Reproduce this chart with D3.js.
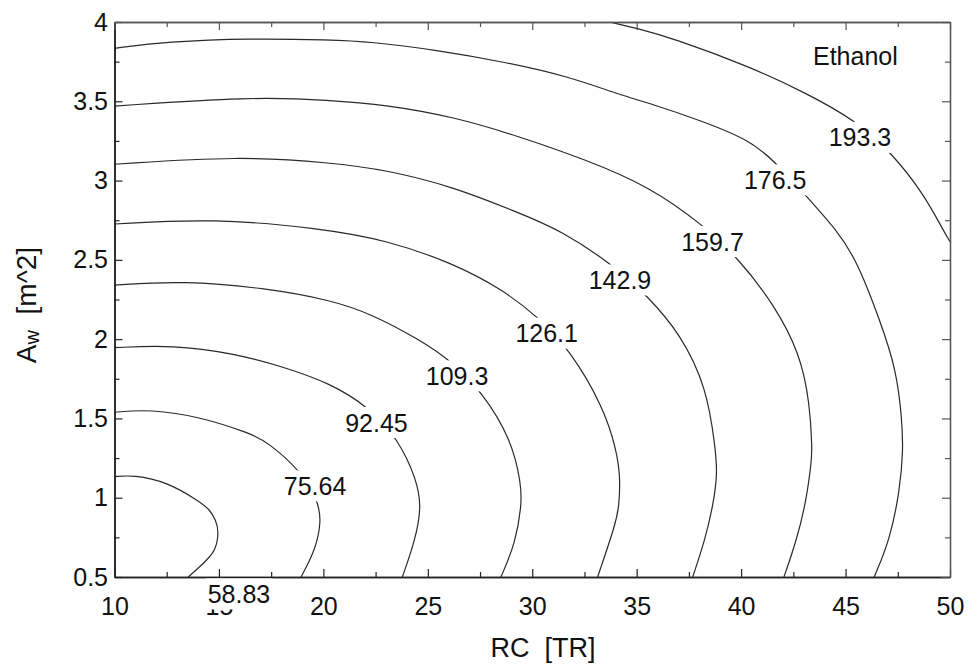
<!DOCTYPE html>
<html>
<head>
<meta charset="utf-8">
<script src="https://cdn.jsdelivr.net/npm/d3@7"></script>
<style>
  html, body { margin: 0; padding: 0; background: #fff; }
  svg { display: block; font-family: "Liberation Sans", Arial, Helvetica, sans-serif; }
  text { white-space: pre; }
</style>
</head>
<body>
<svg id="chart" width="970" height="667"></svg>
<script>
// ---------- data ----------
const xDomain = [10, 50];
const yDomain = [0.5, 4];
const xMajorTicks = [10, 15, 20, 25, 30, 35, 40, 45, 50];
const xMinorTicks = [12.5, 17.5, 22.5, 27.5, 32.5, 37.5, 42.5, 47.5];
const yMajorTicks = [0.5, 1, 1.5, 2, 2.5, 3, 3.5, 4];
const yMinorTicks = [0.75, 1.25, 1.75, 2.25, 2.75, 3.25, 3.75];

const levelLabels = ["58.83", "75.64", "92.45", "109.3", "126.1", "142.9", "159.7", "176.5", "193.3"];

const contour_58_83 = [[10,1.133],[10.9,1.143],[12.5,1.101],[14.09,0.975],[14.57,0.923],[14.85,0.859],[15.0,0.786],[14.85,0.67],[14.41,0.607],[14.09,0.565],[13.53,0.5]];
const contour_75_64 = [[10,1.539],[11.7,1.558],[14.09,1.511],[16.49,1.406],[17.29,1.355],[18.96,1.164],[19.76,0.975],[19.9,0.849],[19.62,0.67],[18.93,0.5]];
const contour_92_45 = [[10,1.946],[12.8,1.963],[15.69,1.911],[18.08,1.826],[20.32,1.722],[22.15,1.574],[23.59,1.37],[24.47,1.112],[24.7,0.943],[24.4,0.733],[23.78,0.5]];
const contour_109_3 = [[10,2.341],[13.29,2.369],[17.29,2.321],[20.32,2.247],[22.23,2.163],[24.62,1.995],[26.06,1.868],[27.62,1.665],[29.01,1.364],[29.46,1.09],[29.5,0.965],[29.2,0.713],[28.5,0.5]];
const contour_126_1 = [[10,2.726],[14.73,2.762],[19.84,2.699],[23.03,2.625],[26.22,2.478],[28.61,2.31],[30.29,2.138],[31.8,1.932],[33.4,1.574],[34.04,1.301],[34.22,1.12],[34.15,0.943],[34.0,0.839],[33.13,0.5]];
const contour_142_9 = [[10,3.103],[16.0,3.155],[20.32,3.113],[23.03,3.067],[26.22,2.961],[29.41,2.794],[31.33,2.688],[33.88,2.468],[35.55,2.268],[37.07,2.037],[38.35,1.70],[38.78,1.301],[38.86,1.154],[38.68,0.965],[38.27,0.733],[37.68,0.5]];
const contour_159_7 = [[10,3.47],[16.49,3.529],[20.32,3.508],[23.03,3.477],[26.22,3.403],[29.41,3.277],[32.6,3.13],[35.63,2.961],[38.18,2.72],[39.86,2.51],[41.54,2.226],[42.82,1.911],[43.29,1.595],[43.4,1.301],[43.37,1.238],[43.13,0.986],[42.66,0.733],[42.05,0.5]];
const contour_176_5 = [[10,3.834],[12.5,3.876],[16.49,3.897],[20.32,3.887],[22.23,3.876],[25.42,3.823],[28.61,3.75],[31.8,3.655],[34.2,3.54],[35.63,3.487],[38.03,3.38],[40.42,3.256],[41.7,3.109],[43.14,2.898],[44.57,2.688],[45.53,2.499],[46.64,2.121],[47.44,1.805],[47.7,1.49],[47.76,1.301],[47.6,1.049],[47.12,0.733],[46.37,0.5]];
const contour_193_3 = [[33.72,4.0],[35.0,3.96],[36.75,3.897],[40.42,3.718],[43.14,3.55],[45.45,3.382],[47.2,3.176],[48.72,2.92],[49.67,2.688],[50,2.615]];

// label anchor points (data units), in the same order as levelLabels
const labelX = [15.96, 19.6, 22.54, 26.4, 30.69, 34.2, 38.63, 41.63, 45.69];
const labelY = [0.393, 1.074, 1.474, 1.768, 2.037, 2.373, 2.615, 3.004, 3.272];

const xTitle = "RC  [TR]";
const yTitleMain = "A";
const yTitleSub = "w";
const yTitleRest = "  [m^2]";
const annotation = "Ethanol";

// ---------- layout ----------
const svg = d3.select("#chart");
const mLeft = 114.5, mRight = 950, mTop = 22, mBottom = 577;
const x = d3.scaleLinear().domain(xDomain).range([mLeft, mRight]);
const y = d3.scaleLinear().domain(yDomain).range([mBottom, mTop]);
const tickFont = 25;

svg.append("defs").append("clipPath").attr("id", "plotclip")
  .append("rect").attr("x", mLeft).attr("y", mTop).attr("width", mRight - mLeft).attr("height", mBottom - mTop);

// ---------- contours ----------
const contours = [contour_58_83, contour_75_64, contour_92_45, contour_109_3, contour_126_1,
                  contour_142_9, contour_159_7, contour_176_5, contour_193_3];
const line = d3.line().x(d => x(d[0])).y(d => y(d[1])).curve(d3.curveBasis);

svg.append("g").attr("clip-path", "url(#plotclip)")
  .selectAll("path").data(contours).join("path")
  .attr("d", line)
  .attr("fill", "none")
  .attr("stroke", "#2a2a2a")
  .attr("stroke-width", 1.2);

// ---------- axes ----------
function styleAxis(g) {
  g.selectAll("text").attr("font-size", tickFont).attr("fill", "#111").attr("font-family", "Liberation Sans, Arial, sans-serif");
}
const gB = svg.append("g").attr("transform", `translate(0,${mBottom})`)
  .call(d3.axisBottom(x).tickValues(xMajorTicks).tickFormat(d3.format("d")).tickSizeInner(-8).tickSizeOuter(0).tickPadding(20));
styleAxis(gB);
svg.append("g").attr("transform", `translate(0,${mBottom})`)
  .call(d3.axisBottom(x).tickValues(xMinorTicks).tickFormat("").tickSizeInner(-5).tickSizeOuter(0));
const gL = svg.append("g").attr("transform", `translate(${mLeft},0)`)
  .call(d3.axisLeft(y).tickValues(yMajorTicks).tickFormat(d3.format("")).tickSizeInner(-8).tickSizeOuter(0).tickPadding(6.5));
styleAxis(gL);
svg.append("g").attr("transform", `translate(${mLeft},0)`)
  .call(d3.axisLeft(y).tickValues(yMinorTicks).tickFormat("").tickSizeInner(-5).tickSizeOuter(0));
svg.append("g").attr("transform", `translate(0,${mTop})`).attr("class", "light")
  .call(d3.axisTop(x).tickValues(xMajorTicks).tickFormat("").tickSizeInner(-8).tickSizeOuter(0));
svg.append("g").attr("transform", `translate(0,${mTop})`).attr("class", "light")
  .call(d3.axisTop(x).tickValues(xMinorTicks).tickFormat("").tickSizeInner(-5).tickSizeOuter(0));
svg.append("g").attr("transform", `translate(${mRight},0)`).attr("class", "light")
  .call(d3.axisRight(y).tickValues(yMajorTicks).tickFormat("").tickSizeInner(-8).tickSizeOuter(0));
svg.append("g").attr("transform", `translate(${mRight},0)`).attr("class", "light")
  .call(d3.axisRight(y).tickValues(yMinorTicks).tickFormat("").tickSizeInner(-5).tickSizeOuter(0));

svg.selectAll(".domain").attr("stroke", "#222").attr("stroke-width", 1.5);
svg.selectAll(".tick line").attr("stroke", "#222").attr("stroke-width", 1.2);
svg.selectAll(".light .domain").attr("stroke", "#555").attr("stroke-width", 1.3);
svg.selectAll(".light .tick line").attr("stroke", "#555");

// ---------- contour labels (white background masks the line) ----------
const lg = svg.append("g");
levelLabels.forEach((txt, i) => {
  const g = lg.append("g");
  const rect = g.append("rect").attr("fill", "#fff");
  const t = g.append("text")
    .attr("x", x(labelX[i]))
    .attr("y", y(labelY[i]) + 0.358 * tickFont)
    .attr("text-anchor", "middle")
    .attr("font-size", tickFont)
    .attr("fill", "#111")
    .text(txt);
  const bb = t.node().getBBox();
  rect.attr("x", bb.x - 2).attr("y", bb.y - 1.5).attr("width", bb.width + 4).attr("height", bb.height + 3);
});

// ---------- titles ----------
svg.append("text")
  .attr("x", 543).attr("y", 657)
  .attr("text-anchor", "middle")
  .attr("font-size", 27)
  .attr("fill", "#111")
  .text(xTitle);

const yt = svg.append("text")
  .attr("transform", "translate(36,305) rotate(-90)")
  .attr("text-anchor", "middle")
  .attr("font-size", 28)
  .attr("fill", "#111");
yt.append("tspan").text(yTitleMain);
yt.append("tspan").attr("font-size", 20).attr("dy", 3).text(yTitleSub);
yt.append("tspan").attr("dy", -3).text(yTitleRest);

svg.append("text")
  .attr("x", 813).attr("y", 65)
  .attr("font-size", 25)
  .attr("fill", "#111")
  .text(annotation);
</script>
</body>
</html>
